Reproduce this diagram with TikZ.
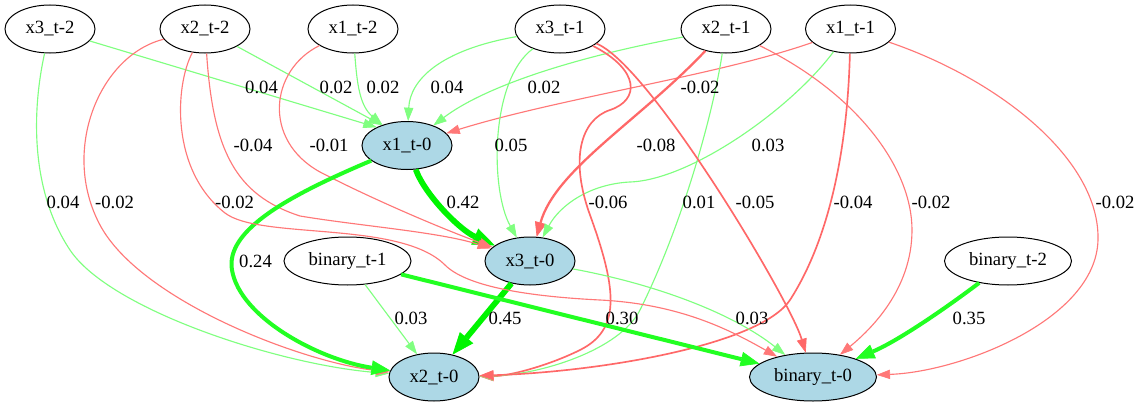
\documentclass[tikz,border=0pt]{standalone}
\usepackage{fontspec}
\setmainfont{Liberation Serif}
\usetikzlibrary{arrows.meta,shapes.geometric}
\definecolor{gthin}{RGB}{128,255,128}
\definecolor{gbold}{RGB}{0,245,0}
\definecolor{gmid}{RGB}{34,255,34}
\definecolor{rthin}{RGB}{255,120,120}
\definecolor{rmid}{RGB}{255,104,104}
\definecolor{lblue}{RGB}{173,216,230}
\begin{document}
\begin{tikzpicture}[x=0.75pt,y=-0.75pt,
  nd/.style={ellipse, draw=black, line width=0.75pt, minimum width=67.5pt, minimum height=36pt, inner sep=0pt, font=\fontsize{14pt}{16pt}\selectfont},
  ndw/.style={nd, minimum width=95.25pt},
  tgt/.style={fill=lblue},
  lbl/.style={inner sep=0pt, font=\fontsize{14pt}{16pt}\selectfont},
  egthin/.style={draw=gthin, line width=0.85pt, -{Triangle[length=10pt,width=7pt,line width=0.5pt]}},
  erthin/.style={draw=rthin, line width=0.85pt, -{Triangle[length=10pt,width=7pt,line width=0.5pt]}},
  erm/.style={draw=rmid, line width=1.25pt, -{Triangle[length=10.5pt,width=7.5pt,line width=0.5pt]}},
  erk/.style={draw=rmid, line width=1.7pt, -{Triangle[length=11pt,width=8.5pt,line width=0.5pt]}},
  egk/.style={draw=gmid, line width=3pt, -{Triangle[length=14pt,width=11pt,line width=0.5pt]}},
  egx/.style={draw=gbold, line width=4.3pt, -{Triangle[length=16.5pt,width=13pt,line width=0.5pt]}}
]
\useasboundingbox (0,0) rectangle (1140,407);
\fill[white] (0,0) rectangle (1140,407);

% nodes
\node[nd] (x3t2) at (50,29) {x3\_t-2};
\node[nd] (x2t2) at (205,29) {x2\_t-2};
\node[nd] (x1t2) at (353,29) {x1\_t-2};
\node[nd] (x3t1) at (560,29) {x3\_t-1};
\node[nd] (x2t1) at (726,29) {x2\_t-1};
\node[nd] (x1t1) at (850.5,29) {x1\_t-1};
\node[nd,tgt] (x1t0) at (407,145.5) {x1\_t-0};
\node[nd,tgt] (x3t0) at (530,261) {x3\_t-0};
\node[ndw] (bt1) at (347.5,261) {binary\_t-1};
\node[ndw] (bt2) at (1008,261) {binary\_t-2};
\node[nd,tgt] (x2t0) at (434,377) {x2\_t-0};
\node[ndw,tgt] (bt0) at (813,377) {binary\_t-0};

% edges into x1_t-0
\draw[egthin] (x3t2) -- (x1t0.149);
\draw[egthin] (x2t2) -- (x1t0.141);
\draw[egthin] (x1t2) .. controls (357,85) and (360,106) .. (x1t0);
\draw[egthin] (x3t1) .. controls (440,50) and (410,80) .. (x1t0);
\draw[egthin] (x2t1) .. controls (560,60) and (480,90) .. (x1t0);
\draw[erthin] (x1t1) .. controls (720,75) and (560,98) .. (x1t0);

% edges into x3_t-0
\draw[egx] (x1t0) .. controls (425,195) and (460,230) .. (x3t0);
\draw[egthin] (x3t1) .. controls (490,80) and (490,190) .. (x3t0);
\draw[erk] (x2t1) .. controls (640,120) and (555,170) .. (x3t0);
\draw[egthin] (x1t1) .. controls (790,110) and (690,180) .. (630,182) .. controls (590,184) and (560,205) .. (x3t0);
\draw[erthin] (x2t2) .. controls (213,150) and (235,195) .. (300,216) .. controls (360,226) and (440,232) .. (x3t0);
\draw[erthin] (x1t2) .. controls (270,70) and (262,140) .. (320,172) .. controls (370,198) and (440,228) .. (x3t0);

% edges into x2_t-0
\draw[egthin] (x3t2) .. controls (32,110) and (30,190) .. (70,250) .. controls (110,310) and (280,365) .. (x2t0);
\draw[erthin] (x2t2) .. controls (100,55) and (60,150) .. (100,225) .. controls (140,300) and (300,362) .. (x2t0);
\draw[egk] (x1t0) .. controls (290,195) and (225,230) .. (232,270) .. controls (240,318) and (320,360) .. (x2t0);
\draw[egthin] (bt1) -- (x2t0);
\draw[egx] (x3t0) -- (x2t0);
\draw[erm] (x3t1) .. controls (640,70) and (640,100) .. (610,110) .. controls (580,120) and (570,160) .. (590,215) .. controls (618,292) and (620,330) .. (580,350) .. controls (550,365) and (510,376) .. (x2t0);
\draw[egthin] (x2t1) .. controls (712,120) and (680,230) .. (640,310) .. controls (620,350) and (540,375) .. (x2t0);
\draw[erm] (x1t1) .. controls (848,130) and (835,230) .. (790,300) .. controls (760,345) and (600,372) .. (x2t0);

% edges into binary_t-0
\draw[egk] (bt1) -- (bt0);
\draw[egk] (bt2) .. controls (950,305) and (900,340) .. (bt0);
\draw[egthin] (x3t0) .. controls (660,285) and (735,315) .. (bt0);
\draw[erm] (x3t1) .. controls (650,65) and (790,300) .. (bt0);
\draw[erthin] (x2t1) .. controls (860,95) and (912,170) .. (912,230) .. controls (912,290) and (870,330) .. (bt0);
\draw[erthin] (x1t1) .. controls (1000,80) and (1100,160) .. (1098,240) .. controls (1096,320) and (960,372) .. (bt0);
\draw[erthin] (x2t2) .. controls (175,85) and (170,170) .. (225,213) .. controls (260,240) and (400,220) .. (445,265) .. controls (465,285) and (520,296) .. (600,300) .. controls (680,304) and (730,330) .. (bt0);

% edge labels
\node[lbl] (l01) at (261.5,87) {0.04};
\node[lbl] (l02) at (336,87) {0.02};
\node[lbl] (l03) at (383,87) {0.02};
\node[lbl] (l04) at (447,87) {0.04};
\node[lbl] (l05) at (544,87) {0.02};
\node[lbl] (l06) at (700,87) {-0.02};
\node[lbl] (l07) at (253,145) {-0.04};
\node[lbl] (l08) at (329,145) {-0.01};
\node[lbl] (l09) at (511,145) {0.05};
\node[lbl] (l10) at (656,145) {-0.08};
\node[lbl] (l11) at (768,145) {0.03};
\node[lbl] (l12) at (63,202) {0.04};
\node[lbl] (l13) at (114.5,202) {-0.02};
\node[lbl] (l14) at (234.5,202) {-0.02};
\node[lbl] (l15) at (463,202) {0.42};
\node[lbl] (l16) at (608,202) {-0.06};
\node[lbl] (l17) at (699,202) {0.01};
\node[lbl] (l18) at (755,202) {-0.05};
\node[lbl] (l19) at (853,202) {-0.04};
\node[lbl] (l20) at (931,202) {-0.02};
\node[lbl] (l21) at (1115,202) {-0.02};
\node[lbl] (l22) at (255.5,261) {0.24};
\node[lbl] (l23) at (411,318) {0.03};
\node[lbl] (l24) at (505,318) {0.45};
\node[lbl] (l25) at (622,318) {0.30};
\node[lbl] (l26) at (752,318) {0.03};
\node[lbl] (l27) at (969,318) {0.35};
\end{tikzpicture}
\end{document}
